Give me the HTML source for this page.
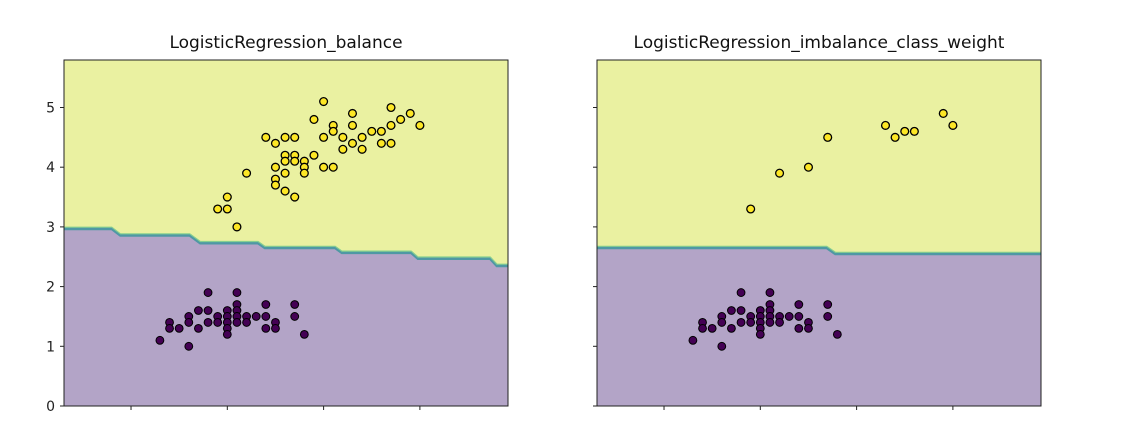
<!DOCTYPE html>
<html><head><meta charset="utf-8"><style>
html,body{margin:0;padding:0;background:#fff;}
svg{display:block;font-family:"DejaVu Sans","Liberation Sans",sans-serif;}
</style></head><body>
<svg id="chart" width="1123" height="441" viewBox="0 0 1123 441"></svg>
<script>
const yTicks = [0,1,2,3,4,5];
const xTicks = [4,5,6,7];
const titles = ["LogisticRegression_balance","LogisticRegression_imbalance_class_weight"];
const setosa = [[4.8,1.9],[5.1,1.9],[5.4,1.7],[5.7,1.7],[5.1,1.7],[4.7,1.6],[4.8,1.6],[5.0,1.6],[5.1,1.6],[4.6,1.5],[4.9,1.5],[5.0,1.5],[5.1,1.5],[5.2,1.5],[5.3,1.5],[5.4,1.5],[5.7,1.5],[4.4,1.4],[4.6,1.4],[4.8,1.4],[4.9,1.4],[5.0,1.4],[5.1,1.4],[5.2,1.4],[5.5,1.4],[4.4,1.3],[4.5,1.3],[4.7,1.3],[5.0,1.3],[5.4,1.3],[5.5,1.3],[5.0,1.2],[5.8,1.2],[4.3,1.1],[4.6,1.0]];
const versicolorAll = [[6.0,5.1],[5.9,4.8],[6.3,4.9],[6.7,5.0],[6.9,4.9],[6.8,4.8],[7.0,4.7],[6.7,4.7],[6.3,4.7],[6.1,4.7],[6.1,4.6],[6.5,4.6],[6.6,4.6],[5.4,4.5],[5.6,4.5],[5.7,4.5],[6.0,4.5],[6.2,4.5],[6.4,4.5],[5.5,4.4],[6.3,4.4],[6.6,4.4],[6.7,4.4],[6.2,4.3],[6.4,4.3],[5.6,4.2],[5.7,4.2],[5.9,4.2],[5.6,4.1],[5.7,4.1],[5.8,4.1],[5.8,4.0],[5.5,4.0],[6.0,4.0],[6.1,4.0],[5.8,3.9],[5.6,3.9],[5.2,3.9],[5.5,3.8],[5.5,3.7],[5.6,3.6],[5.7,3.5],[5.0,3.5],[4.9,3.3],[5.0,3.3],[5.1,3.0]];
const versicolorSub = [[4.9,3.3],[5.2,3.9],[5.5,4.0],[5.7,4.5],[6.3,4.7],[6.4,4.5],[6.5,4.6],[6.6,4.6],[6.9,4.9],[7.0,4.7]];
// decision boundary steps: x breakpoints and y levels
const boundaryX1 = [3.80,3.89,4.61,4.72,5.32,5.39,6.12,6.19,6.91,6.98,7.73,7.80];
const boundaryY1 = [2.97,2.86,2.86,2.73,2.73,2.65,2.65,2.57,2.57,2.47,2.47,2.35];
const boundaryX2 = [5.69,5.78];
const boundaryY2 = [2.65,2.55];

const NS="http://www.w3.org/2000/svg";
const svg=document.getElementById('chart');
const XMIN=3.304, XMAX=7.915, YMAX=5.8;
function mk(tag,attrs,parent){const e=document.createElementNS(NS,tag);for(const k in attrs)e.setAttribute(k,attrs[k]);(parent||svg).appendChild(e);return e;}

function drawPanel(idx,left,showYLabels,bx,by,pts2){
  const W=444,top=60,bottom=406;
  const sx=v=>left+(v-XMIN)/(XMAX-XMIN)*W;
  const sy=v=>bottom-v*59.7;
  const g=mk('g',{});
  
  
  const bg=mk('rect',{x:left,y:top,width:W,height:bottom-top,fill:'#eaf1a1'},g);
  
  
  let pts=[[XMIN,by[0]]];
  for(let i=0;i<bx.length;i++)pts.push([bx[i],by[i]]);
  pts.push([XMAX,by[by.length-1]]);
  const lineStr=pts.map(p=>sx(p[0]).toFixed(1)+','+sy(p[1]).toFixed(1)).join(' ');
  const poly=mk('polygon',{points:lineStr+' '+sx(XMAX)+','+bottom+' '+sx(XMIN)+','+bottom,fill:'#b3a4c7'},g);
  
  
  const bl=mk('polyline',{points:lineStr,fill:'none',stroke:'#4f98a4','stroke-width':3},g);
  
  
  const bl2=mk('polyline',{points:pts.map(p=>sx(p[0]).toFixed(1)+','+(sy(p[1])-1.5).toFixed(1)).join(' '),fill:'none',stroke:'#86cf90','stroke-width':1.2},g);
  
  
  setosa.forEach(p=>{const c=mk('circle',{cx:sx(p[0]),cy:sy(p[1]),r:3.9,fill:'#440154',stroke:'#000','stroke-width':1},g);
    
    });
  pts2.forEach(p=>{const c=mk('circle',{cx:sx(p[0]),cy:sy(p[1]),r:3.9,fill:'#fde725',stroke:'#000','stroke-width':1.3},g);
    
    });
  const fr=mk('rect',{x:left,y:top,width:W,height:bottom-top,fill:'none',stroke:'#222','stroke-width':1},g);
  
  
  yTicks.forEach(t=>{
    mk('line',{x1:left-4,x2:left,y1:sy(t),y2:sy(t),stroke:'#222','stroke-width':1},g);
    if(showYLabels){const tx=mk('text',{x:left-9,y:sy(t)+5,'text-anchor':'end','font-size':14,fill:'#222'},g);
      tx.textContent=t;
      
      }
  });
  xTicks.forEach(t=>{mk('line',{x1:sx(t),x2:sx(t),y1:bottom,y2:bottom+4,stroke:'#222','stroke-width':1},g);});
  const ti=mk('text',{x:left+W/2,y:48,'text-anchor':'middle','font-size':17,fill:'#111'},g);
  ti.textContent=titles[idx];
  
  
}
drawPanel(0,64,true,boundaryX1,boundaryY1,versicolorAll);
drawPanel(1,597,false,boundaryX2,boundaryY2,versicolorSub);
</script>
</body></html>
